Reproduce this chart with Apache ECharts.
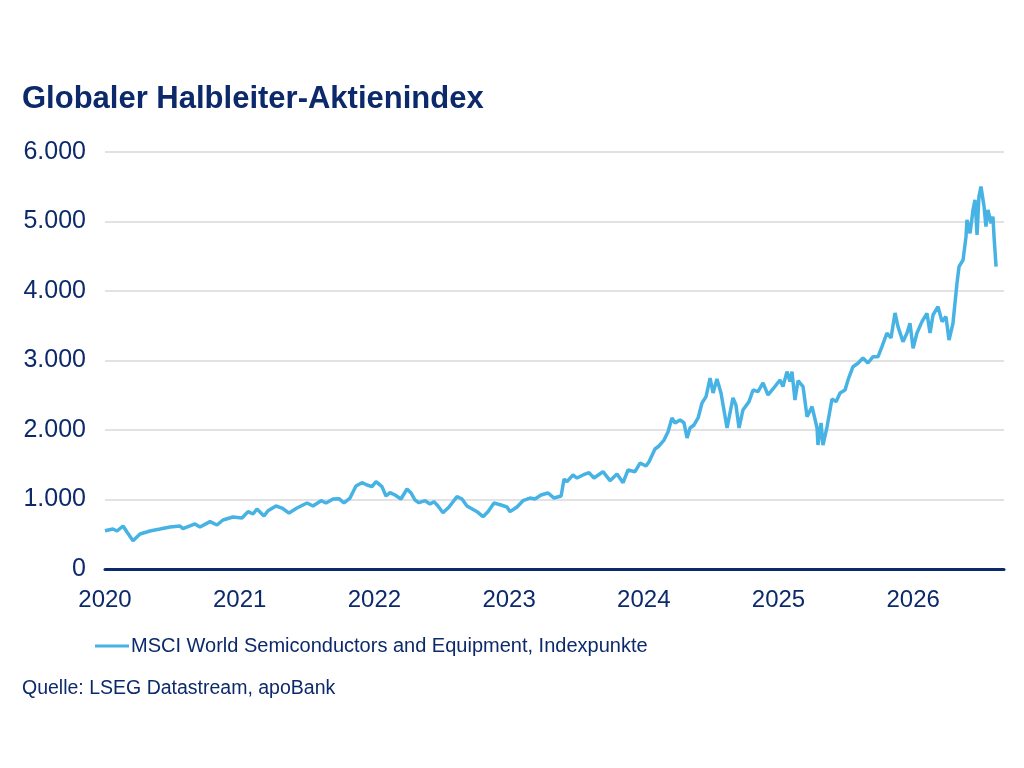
<!DOCTYPE html>
<html>
<head>
<meta charset="utf-8">
<script src="https://cdn.jsdelivr.net/npm/echarts@6/dist/echarts.min.js"></script>
<style>
  html, body { margin: 0; padding: 0; background: #fff; }
  #chart { width: 1024px; height: 768px; }
</style>
</head>
<body>
<div id="chart"></div>
<script>
// Zeitpunkte als Dezimaljahre
const years = [
  2020.000, 2020.059, 2020.089, 2020.134, 2020.163, 2020.208, 2020.260, 2020.334, 2020.408, 2020.483,
  2020.557, 2020.579, 2020.668, 2020.705, 2020.780, 2020.831, 2020.876, 2020.950, 2021.017, 2021.062,
  2021.099, 2021.128, 2021.180, 2021.210, 2021.269, 2021.314, 2021.366, 2021.425, 2021.500, 2021.544,
  2021.604, 2021.641, 2021.693, 2021.737, 2021.745, 2021.774, 2021.819, 2021.863, 2021.908, 2021.945,
  2021.982, 2022.012, 2022.056, 2022.086, 2022.116, 2022.153, 2022.197, 2022.242, 2022.272, 2022.301,
  2022.331, 2022.376, 2022.413, 2022.442, 2022.472, 2022.509, 2022.554, 2022.613, 2022.650, 2022.687,
  2022.762, 2022.806, 2022.843, 2022.888, 2022.940, 2022.984, 2023.007, 2023.059, 2023.103, 2023.155,
  2023.192, 2023.237, 2023.289, 2023.334, 2023.386, 2023.408, 2023.430, 2023.474, 2023.504, 2023.549,
  2023.593, 2023.630, 2023.697, 2023.749, 2023.801, 2023.846, 2023.883, 2023.935, 2023.972, 2024.016,
  2024.039, 2024.083, 2024.113, 2024.150, 2024.180, 2024.209, 2024.232, 2024.269, 2024.298, 2024.321,
  2024.343, 2024.373, 2024.403, 2024.432, 2024.462, 2024.492, 2024.514, 2024.543, 2024.573, 2024.595,
  2024.618, 2024.662, 2024.684, 2024.707, 2024.736, 2024.781, 2024.811, 2024.848, 2024.885, 2024.922,
  2024.959, 2025.011, 2025.033, 2025.063, 2025.085, 2025.100, 2025.122, 2025.145, 2025.182, 2025.212,
  2025.249, 2025.286, 2025.293, 2025.316, 2025.330, 2025.360, 2025.397, 2025.427, 2025.457, 2025.494,
  2025.516, 2025.553, 2025.590, 2025.627, 2025.664, 2025.702, 2025.739, 2025.768, 2025.805, 2025.835,
  2025.865, 2025.887, 2025.924, 2025.954, 2025.976, 2025.999, 2026.028, 2026.065, 2026.102, 2026.125,
  2026.147, 2026.184, 2026.214, 2026.243, 2026.266, 2026.295, 2026.325, 2026.340, 2026.370, 2026.392,
  2026.399, 2026.422, 2026.444, 2026.459, 2026.474, 2026.488, 2026.503, 2026.526, 2026.540, 2026.555,
  2026.578, 2026.592, 2026.600, 2026.615
];

// MSCI World Semiconductors and Equipment, Indexpunkte
const indexValues = [
  551, 575, 547, 619, 532, 407, 504, 547, 575, 604,
  619, 580, 648, 604, 681, 633, 705, 748, 734, 825,
  791, 863, 763, 839, 906, 877, 805, 877, 950, 906,
  983, 950, 1007, 1012, 1036, 950, 1021, 1194, 1242, 1209,
  1185, 1256, 1185, 1050, 1098, 1065, 1007, 1151, 1094, 993,
  954, 983, 935, 969, 906, 810, 892, 1041, 1007, 906,
  825, 753, 825, 950, 921, 892, 825, 892, 983, 1021,
  1007, 1065, 1094, 1021, 1050, 1295, 1256, 1353, 1309, 1353,
  1386, 1309, 1400, 1271, 1367, 1242, 1425, 1400, 1525, 1482,
  1544, 1727, 1770, 1856, 1976, 2173, 2101, 2144, 2105, 1885,
  2029, 2072, 2173, 2389, 2480, 2748, 2533, 2734, 2533, 2288,
  2029, 2461, 2360, 2029, 2288, 2408, 2576, 2552, 2677, 2504,
  2590, 2720, 2624, 2840, 2696, 2840, 2432, 2710, 2624, 2192,
  2336, 2029, 1784, 2101, 1784, 2043, 2446, 2408, 2533, 2576,
  2720, 2911, 2960, 3036, 2964, 3055, 3055, 3199, 3396, 3324,
  3684, 3487, 3271, 3396, 3535, 3176, 3396, 3559, 3679, 3396,
  3655, 3775, 3559, 3631, 3295, 3535, 4111, 4350, 4446, 4782,
  5022, 4830, 5166, 5310, 4806, 5358, 5502, 5214, 4926, 5166,
  4975, 5070, 4782, 4350
];

const yTicks = [0, 1000, 2000, 3000, 4000, 5000, 6000];

const navy = '#0C2A6B';
const fontFamily = '"Liberation Sans", Arial, sans-serif';

function formatDE(v) {
  return String(Math.round(v)).replace(/\B(?=(\d{3})+(?!\d))/g, '.');
}

const chart = echarts.init(document.getElementById('chart'));

const option = {
  animation: false,
  backgroundColor: '#ffffff',
  textStyle: { fontFamily: fontFamily },
  title: {
    text: 'Globaler Halbleiter-Aktienindex',
    left: 17,
    top: 79,
    textStyle: { fontSize: 31, fontWeight: 'bold', color: navy, fontFamily: fontFamily }
  },
  legend: {
    left: 95,
    top: 636,
    padding: 0,
    icon: 'rect',
    itemWidth: 34,
    itemHeight: 3,
    textStyle: { fontSize: 20, color: navy, fontFamily: fontFamily, padding: [0, 0, 0, -3] },
    data: ['MSCI World Semiconductors and Equipment, Indexpunkte']
  },
  graphic: [{
    type: 'text',
    left: 22,
    top: 679,
    style: {
      text: 'Quelle: LSEG Datastream, apoBank',
      fontSize: 19.5,
      fill: navy,
      fontFamily: fontFamily
    }
  }],
  grid: {
    left: 105,
    right: 20,
    top: 152,
    bottom: 199,
    containLabel: false
  },
  xAxis: {
    type: 'value',
    min: 2020,
    max: 2026.674,
    interval: 1,
    axisLine: { show: true, onZero: false, lineStyle: { color: navy, width: 3 } },
    axisTick: { show: false },
    splitLine: { show: false },
    axisLabel: {
      showMaxLabel: false,
      margin: 19,
      fontSize: 24,
      color: navy,
      fontFamily: fontFamily,
      formatter: v => String(Math.round(v))
    }
  },
  yAxis: {
    type: 'value',
    min: yTicks[0],
    max: yTicks[yTicks.length - 1],
    interval: 1000,
    axisLine: { show: false },
    axisTick: { show: false },
    splitLine: { lineStyle: { color: '#D9D9D9', width: 1.5 } },
    axisLabel: {
      margin: 19,
      fontSize: 25,
      color: navy,
      fontFamily: fontFamily,
      formatter: v => formatDE(v)
    }
  },
  series: [{
    name: 'MSCI World Semiconductors and Equipment, Indexpunkte',
    type: 'line',
    showSymbol: false,
    symbol: 'none',
    data: years.map((y, i) => [y, indexValues[i]]),
    lineStyle: { color: '#47B3E5', width: 3.5 },
    itemStyle: { color: '#47B3E5' },
    z: 3
  }]
};

chart.setOption(option);
</script>
</body>
</html>
